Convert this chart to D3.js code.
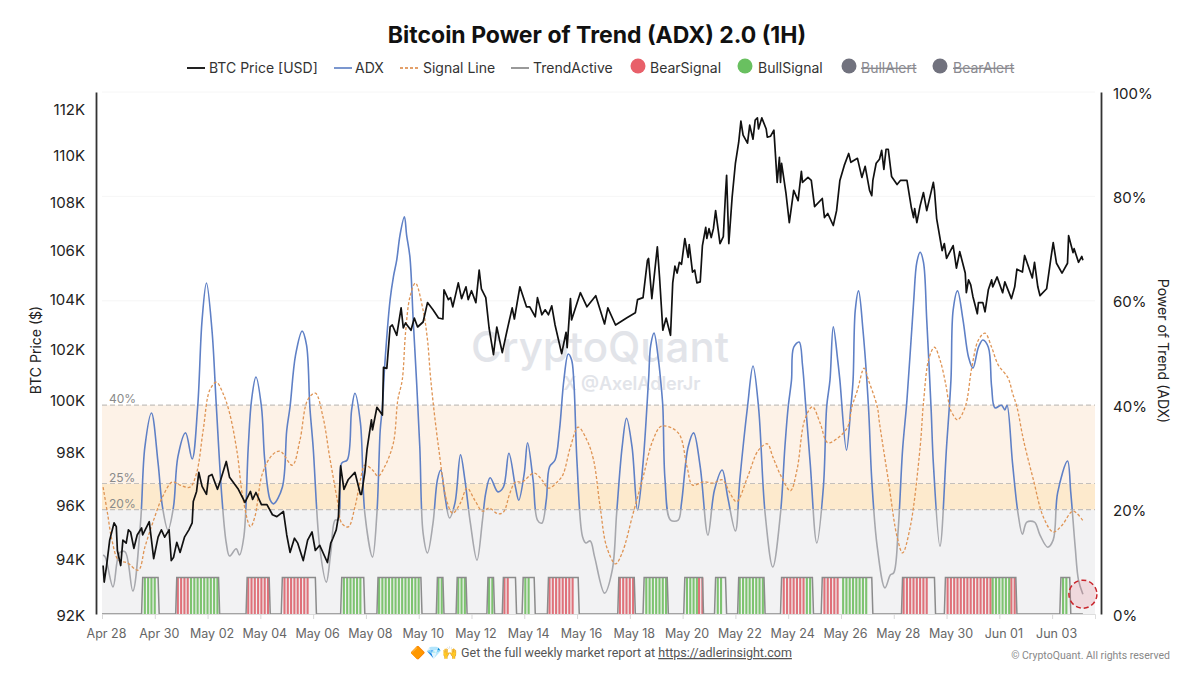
<!DOCTYPE html>
<html>
<head>
<meta charset="utf-8">
<script src="https://cdn.jsdelivr.net/npm/d3@7/dist/d3.min.js"></script>
<style>
  html, body { margin: 0; background: #fff; }
  svg { display: block; font-family: Inter, "Noto Sans", sans-serif; }
</style>
</head>
<body>
<svg id="chart" width="1200" height="675"></svg>
<script>
const priceHours = [1,2,4,7,11,13,14,17,19,22,24,26,29,32,36,37,43,47,51,54,57,61,63,65,68,71,75,79,82,83,86,88,91,95,97,100,105,108,113,116,124,130,135,137,140,145,150,155,159,165,168,171,175,178,183,187,191,194,198,205,208,210,213,215,217,220,224,230,235,236,239,241,245,246,250,255,256,259,262,264,268,272,274,276,281,284,287,292,296,301,306,310,311,315,317,319,324,327,331,333,336,340,343,345,349,352,356,359,364,368,373,375,380,386,389,394,396,400,403,406,409,412,418,422,423,426,427,435,441,449,457,460,467,477,485,487,492,496,497,500,505,507,510,513,517,519,521,523,525,527,530,533,534,537,539,541,544,546,549,550,552,554,556,558,562,565,567,568,570,573,576,579,581,583,587,589,592,594,596,597,600,604,605,608,611,614,616,617,618,622,625,627,629,633,636,637,642,645,648,655,657,660,665,668,671,675,679,681,687,691,694,698,700,701,704,707,709,711,713,715,718,723,726,732,736,738,739,741,744,747,750,756,757,759,764,766,768,774,777,780,785,786,788,790,792,796,797,801,803,806,809,810,814,819,821,827,830,832,837,839,846,848,851,853,859,863,865,868,873,878,879,883,884,888,891,892];
const priceUsd = [93.75,93.15,93.69,94.68,95.32,95.18,94.3,93.75,94.68,94.57,95.06,94.98,94.38,94.87,95.13,94.87,95.36,94.0,94.79,95.06,94.79,95.06,93.93,94.04,94.6,94.23,94.79,95.06,95.32,96.11,96.49,97.21,96.68,96.38,97.06,97.13,96.57,96.94,97.62,97.02,96.57,96.08,96.49,96.19,96.45,96.0,96.0,95.62,95.55,95.74,94.87,94.23,94.75,94.57,93.93,94.68,94.98,94.3,94.49,93.86,94.57,94.75,95.06,95.55,97.45,96.57,96.94,97.21,96.38,96.38,97.21,98.08,99.21,98.83,99.7,99.4,101.26,101.22,102.86,102.94,102.53,103.63,102.82,103.02,102.73,103.22,102.86,103.06,103.84,103.55,103.22,103.18,104.36,103.96,104.04,103.67,104.64,104,104.48,103.96,104.32,103.84,105.16,104.4,104.04,102.82,101.76,102.86,101.84,102.65,103.63,103.18,104.48,103.67,103.67,103.27,104.04,103.35,103.55,103.35,103.71,102.94,101.8,102.65,102.04,104,103.14,104.24,103.67,104.12,102.98,103.63,102.94,103.22,103.43,103.96,104.04,105.56,105.64,104,106.12,104.88,102.73,103.22,102.53,104.64,105.32,105.04,105.48,105.4,106.46,105.68,106.21,105.08,105.16,104.64,104.68,106.17,106.92,106.46,106.87,106.5,106.87,107.62,106.25,106.54,108.34,109.11,106.25,108.17,109.62,110.52,111.43,110.83,110.48,111.26,110.65,111.48,111.57,111.09,111.57,111.09,110.74,110.78,111.04,108.81,109.87,108.81,109.62,108.34,107.12,107.79,108.47,108.04,109.28,108.81,109.02,108.89,107.79,108.13,107.33,107.5,107.0,107.62,108.89,109.53,110.04,109.66,109.83,109.02,109.49,108.47,108.25,108.89,109.62,109.79,110.17,109.36,110.22,110.22,109.06,108.72,108.89,108.89,107.75,107.33,107.71,107.12,107.83,108.38,107.62,108.81,108.47,107.29,105.96,106.25,105.64,106.17,105.24,105.92,105.04,104.24,104.76,104.56,104.08,103.39,103.84,103.84,103.47,104.36,104.76,104.48,104.88,104.24,104.68,104,104.48,105.2,105.08,105.76,104.84,105.48,104.48,104.12,104.4,105.68,106.29,105.44,105.04,105.44,106.58,105.88,106.04,105.48,105.72,105.56].map(k => k * 1000);

const adxHours = [1,3,10,16,21,28,35,39,45,51,55,60,65,69,76,82,87,91,95,100,104,109,113,116,122,125,129,133,136,140,145,148,153,156,164,168,171,176,182,186,189,192,198,204,208,212,215,218,223,227,230,235,239,246,250,253,255,257,262,265,268,271,275,277,280,283,286,289,292,296,301,305,308,312,316,321,326,330,335,341,346,349,353,360,365,370,376,379,384,387,392,396,400,404,407,412,416,420,424,427,429,432,437,440,444,448,457,464,468,473,477,482,487,492,497,499,502,506,508,510,512,517,524,527,533,538,544,551,557,564,569,576,580,587,592,597,603,610,617,621,624,627,629,634,637,640,644,650,656,659,662,665,669,671,677,681,683,685,688,692,697,700,705,712,717,720,724,728,732,738,741,744,747,750,754,756,762,768,772,774,778,783,788,792,797,801,806,809,812,818,821,823,828,833,837,841,848,853,860,865,869,878,881,885,888,892];
const adxValues = [11.3,10.9,5.2,11.7,11.9,4.4,17.4,32,38.5,28.9,20.5,16.1,20.5,30.1,34.7,29.7,39.7,56.3,63.4,54.4,39.7,22.4,13.6,11.1,12.5,11.3,14.8,32,41,45.4,39.7,29.5,21.8,21.1,24.3,35.2,39.7,49.6,54.2,51.5,39.7,32,12.8,6.1,11.7,18,18,28.9,29.5,39.1,42.3,36.6,19.3,10.9,19.3,35.2,39.7,47.3,60.2,64.6,67.8,72.6,76.1,72.6,68.4,56.3,44.8,32,15.5,11.7,17.4,25.7,27.6,22.4,18.4,21.3,30.5,25.7,17.4,10.3,18,23.2,26.1,23.4,24.3,30.8,24.3,21.8,27,32.8,25.7,18,17.4,21.8,28.2,29.5,35.2,44.8,49.8,48.7,44.8,28.9,14.8,13.6,14,10.9,4,8.4,19.3,32,37.5,32,19.9,28.9,44.8,51.5,53.8,48.7,44.8,39.7,25.7,18,18,21.3,32,34.7,28.2,15.1,23.8,27.6,22.4,15.9,25.7,39.7,47.5,39.7,19.3,9,19.3,32,39.7,44.8,51.1,52.1,47.7,39.7,28.9,13.6,24.3,39.7,44.8,55,48.7,44.8,31.4,39.7,44.8,58.2,61.9,54.4,39.7,25.7,12.8,5,7.5,7.9,16.1,31.4,41,59.6,67.4,69.3,67.4,56.3,39.1,28.9,13,32,44.8,58.2,61.9,56.3,49.2,47.1,51.1,52.5,51.1,43.5,39.5,40,39.1,40,28.9,19.3,15.3,17.6,17.6,15.1,12.8,14.2,23.2,29.3,23.2,12.8,6.5,3.8];

const signalHours = [1,5,9,15,23,33,39,46,55,64,71,80,86,92,98,104,110,116,123,128,135,139,146,155,162,173,180,187,194,201,207,214,218,224,230,235,239,246,251,257,265,269,273,276,280,285,292,296,299,306,314,319,326,332,339,346,352,360,365,371,376,382,393,400,406,414,419,426,433,441,447,453,459,467,473,483,492,501,509,524,532,537,547,556,564,571,577,587,597,605,610,618,626,632,639,646,653,660,669,678,682,687,693,697,705,707,715,723,728,735,744,747,752,757,762,767,771,773,778,785,791,797,803,809,815,824,828,832,838,847,856,865,873,883,893];
const signalValues = [24.3,19.3,14.2,10.3,9.8,8.4,12.8,17.4,22.4,25.3,24.7,24.3,27,35.2,42.9,44.4,42.3,38.5,30.8,22.4,16.7,18.6,27,30.5,31.2,28.5,33.3,41,42.3,37.7,30.1,21.8,17.4,16.7,20.5,25.7,28.5,27.6,26.4,28.2,32.8,41,44.8,53.8,60.7,63.4,58.2,52.5,44.8,32,21.3,19.3,21.3,24.1,21.8,19.7,20.3,19.2,19.5,23.2,25.3,25.3,27,25.7,24.1,25.3,26.6,32,35.8,33.3,29.5,20.5,12.8,9.6,11.7,19.3,26.2,33.3,36,34.7,28.2,24.7,25.3,25.1,25.7,23.2,21.5,26.2,31.4,32.6,30.1,26.2,23.6,27.6,37.2,39.7,36.6,32.8,33.7,35.8,39.7,42.9,47.1,44.8,39.7,36.6,25.7,14.8,11.7,16.7,32,40.4,49,51.1,48.7,44.3,39.5,38.5,37.2,39.7,47.3,52.5,53.8,51.1,47.7,45.2,42.3,39.7,33.3,25.7,18.6,15.7,17,19.7,17.6];

// TrendActive on/off windows and the signal runs inside them
const trendActive = [[37,51],[68,106],[132,152],[164,194],[218,238],[251,290],[305,310],[323,331],[351,356],[365,376],[383,393],[406,433],[470,484],[493,514],[530,546],[558,567],[579,602],[618,646],[655,700],[728,757],[767,831],[872,880]];
const trendLevel = 7;
const bullRuns = [[38,48],[80,104],[219,234],[251,287],[305,310],[323,331],[351,356],[384,387],[494,512],[531,541],[559,564],[579,602],[640,645],[673,694],[809,824],[873,878]];
const bearRuns = [[68,78],[132,151],[165,186],[365,369],[406,427],[470,484],[542,546],[619,637],[656,669],[728,750],[768,808],[826,831]];

const priceTicks = [92000,94000,96000,98000,100000,102000,104000,106000,108000,110000,112000];
const pctTicks = [0,20,40,60,80,100];
const zoneEdges = [0,20,25,40];
const zoneLabels = [[40,"40%"],[25,"25%"],[20,"20%"]];

const legendLines = [
  {name:"BTC Price [USD]", color:"#222", dash:null, lx:187, tx:209},
  {name:"ADX", color:"#7b97cf", dash:null, lx:334, tx:355},
  {name:"Signal Line", color:"#e3a06a", dash:"3,2", lx:400, tx:423},
  {name:"TrendActive", color:"#999", dash:null, lx:511, tx:533}
];
const legendDots = [
  {name:"BearSignal", color:"#e8606a", cx:638, tx:650, off:false},
  {name:"BullSignal", color:"#69c060", cx:745, tx:758, off:false},
  {name:"BullAlert", color:"#71727e", cx:849, tx:861, off:true},
  {name:"BearAlert", color:"#71727e", cx:940, tx:953, off:true}
];

const plotLeft = 102, plotRight = 1095, plotTop = 92, plotBottom = 614;
const t0 = Date.UTC(2025, 3, 28);
const hourToDate = h => new Date(t0 + h * 3600e3);

const x = d3.scaleUtc().domain([hourToDate(0), hourToDate(903)]).range([plotLeft, plotRight]);
const yPrice = d3.scaleLog().domain([92000, 112700]).range([plotBottom, plotTop]);
const yPct = d3.scaleLinear().domain([0, 100]).range([plotBottom, plotTop]);

const svg = d3.select("#chart");

// title + legend
svg.append("text").attr("x", 597).attr("y", 43).attr("text-anchor", "middle")
  .style("font-size", "23px").style("font-weight", 700).attr("fill", "#111")
  .text("Bitcoin Power of Trend (ADX) 2.0 (1H)");

const legend = svg.append("g").style("font-size", "14px").attr("fill", "#333");
legendLines.forEach(d => {
  legend.append("line").attr("x1", d.lx).attr("x2", d.lx + 18).attr("y1", 68).attr("y2", 68)
    .attr("stroke", d.color).attr("stroke-width", 2).attr("stroke-dasharray", d.dash);
  legend.append("text").attr("x", d.tx).attr("y", 73).text(d.name);
});
legendDots.forEach(d => {
  legend.append("circle").attr("cx", d.cx).attr("cy", 66).attr("r", 7.5).attr("fill", d.color);
  legend.append("text").attr("x", d.tx).attr("y", 73).text(d.name)
    .attr("fill", d.off ? "#8a8a90" : "#333")
    .style("text-decoration", d.off ? "line-through" : null);
});

// zones
const zoneColors = ["#f2f2f3", "#fdeacd", "#fdf2e7"];
d3.pairs(zoneEdges).forEach(([a, b], i) => {
  svg.append("rect").attr("x", plotLeft).attr("width", plotRight - plotLeft)
    .attr("y", yPct(b)).attr("height", yPct(a) - yPct(b)).attr("fill", zoneColors[i]);
});
[20, 25, 40].forEach(v => {
  svg.append("line").attr("x1", plotLeft).attr("x2", plotRight).attr("y1", yPct(v)).attr("y2", yPct(v))
    .attr("stroke", "#c4c0bc").attr("stroke-width", 1.2).attr("stroke-dasharray", "5,3");
});
svg.append("g").selectAll("text").data(zoneLabels).join("text")
  .attr("x", 109).attr("y", d => yPct(d[0]) - 2)
  .attr("fill", "#8a8a8a").style("font-size", "12px").text(d => d[1]);

// very faint grid
svg.append("g").selectAll("line").data([60, 80, 100]).join("line")
  .attr("x1", plotLeft).attr("x2", plotRight).attr("y1", d => yPct(d)).attr("y2", d => yPct(d))
  .attr("stroke", "#f6f6f6");

// watermark
svg.append("text").attr("x", 600).attr("y", 362).attr("text-anchor", "middle")
  .style("font-size", "42px").style("font-weight", 500).attr("fill", "#e2e4e9").text("CryptoQuant");
svg.append("text").attr("x", 632).attr("y", 390).attr("text-anchor", "middle")
  .style("font-size", "18px").style("font-weight", 600).attr("fill", "#e2e4e9").text("X @AxelAdlerJr");

// signal bars inside each run, every third hour so the stripes stay visible
const barStep = 3;
const hoursOf = runs => runs.flatMap(([a, b]) => d3.range(a, b + 1, barStep));
const drawBars = (runs, color) => {
  svg.append("g").selectAll("rect").data(hoursOf(runs)).join("rect")
    .attr("x", h => x(hourToDate(h))).attr("width", 2.1)
    .attr("y", yPct(trendLevel)).attr("height", yPct(0) - yPct(trendLevel))
    .attr("fill", color).attr("fill-opacity", 0.85);
};
drawBars(bearRuns, "#dc5a64");
drawBars(bullRuns, "#68bb58");

// step line of TrendActive
const trendPoints = [[0, 0]].concat(
  trendActive.flatMap(([a, b]) => [[a - 1, 0], [a, trendLevel], [b, trendLevel], [b + 1, 0]]),
  [[892, 0]]
);
const trendLine = d3.line().x(d => x(hourToDate(d[0]))).y(d => yPct(d[1]));
svg.append("path").attr("d", trendLine(trendPoints)).attr("fill", "none")
  .attr("stroke", "#8b8b8b").attr("stroke-width", 1.5);

// ADX is blue above 20 % and grey under it
const defs = svg.append("defs");
defs.append("clipPath").attr("id", "above").append("rect")
  .attr("x", plotLeft).attr("width", plotRight - plotLeft).attr("y", plotTop).attr("height", yPct(20) - plotTop);
defs.append("clipPath").attr("id", "below").append("rect")
  .attr("x", plotLeft).attr("width", plotRight - plotLeft).attr("y", yPct(20)).attr("height", plotBottom - yPct(20));

const smooth = d3.line().curve(d3.curveCatmullRom.alpha(0.5))
  .x(d => x(hourToDate(d[0]))).y(d => yPct(d[1]));
const adxPoints = d3.zip(adxHours, adxValues);
svg.append("path").attr("d", smooth(adxPoints)).attr("fill", "none")
  .attr("stroke", "#5f80c6").attr("stroke-width", 1.6).attr("clip-path", "url(#above)");
svg.append("path").attr("d", smooth(adxPoints)).attr("fill", "none")
  .attr("stroke", "#a7a8ad").attr("stroke-width", 1.6).attr("clip-path", "url(#below)");

svg.append("path").attr("d", smooth(d3.zip(signalHours, signalValues))).attr("fill", "none")
  .attr("stroke", "#df9454").attr("stroke-width", 1.3).attr("stroke-dasharray", "3,2");

const priceLine = d3.line().x(d => x(hourToDate(d[0]))).y(d => yPrice(d[1]));
svg.append("path").attr("d", priceLine(d3.zip(priceHours, priceUsd))).attr("fill", "none")
  .attr("stroke", "#111").attr("stroke-width", 1.7).attr("stroke-linejoin", "round");

// alert ring on the last ADX reading
svg.append("circle")
  .attr("cx", x(hourToDate(adxHours[adxHours.length - 1])))
  .attr("cy", yPct(adxValues[adxValues.length - 1]))
  .attr("r", 14).attr("fill", "#e05a6a").attr("fill-opacity", 0.16)
  .attr("stroke", "#c9252c").attr("stroke-width", 1.5).attr("stroke-dasharray", "5,3");

// axes
const axisLeft = d3.axisLeft(yPrice).tickValues(priceTicks).tickFormat(d => d / 1000 + "K").tickSize(0).tickPadding(11);
const gl = svg.append("g").attr("transform", "translate(96,0)").call(axisLeft);
gl.select(".domain").attr("stroke", "#333").attr("stroke-width", 1.8);
gl.selectAll("text").attr("dy", "0.4em").style("font-size", "15px").style("font-family", "Inter").attr("fill", "#222");

const axisRight = d3.axisRight(yPct).tickValues(pctTicks).tickFormat(d => d + "%").tickSize(0).tickPadding(12);
const gr = svg.append("g").attr("transform", "translate(1101,0)").call(axisRight);
gr.select(".domain").attr("stroke", "#333").attr("stroke-width", 1.8);
gr.selectAll("text").attr("dy", "0.4em").style("font-size", "15px").style("font-family", "Inter").attr("fill", "#222");

const tickDates = d3.range(0, 37, 2).map(d => hourToDate(d * 24));
const axisBottom = d3.axisBottom(x).tickValues(tickDates).tickFormat(d3.utcFormat("%b %d")).tickSizeOuter(0).tickSize(5).tickPadding(10);
const gb = svg.append("g").attr("transform", `translate(0,${plotBottom})`).call(axisBottom);
gb.select(".domain").attr("stroke", "#dddddd");
gb.selectAll(".tick line").attr("stroke", "#d8d8d8");
gb.selectAll("text").attr("dx", 4).style("font-size", "12.5px").style("font-family", "Inter").attr("fill", "#666");

svg.append("text").attr("transform", "translate(41,350) rotate(-90)").attr("text-anchor", "middle")
  .style("font-size", "14px").attr("fill", "#222").text("BTC Price ($)");
svg.append("text").attr("transform", "translate(1158,351) rotate(90)").attr("text-anchor", "middle")
  .style("font-size", "14px").attr("fill", "#222").text("Power of Trend (ADX)");

// footer
const foot = svg.append("text").attr("x", 410).attr("y", 657)
  .style("font-size", "12.5px").style("font-family", "Roboto").attr("fill", "#555");
foot.append("tspan").text("🔶💎🙌 Get the full weekly market report at ");
foot.append("tspan").style("text-decoration", "underline").text("https://adlerinsight.com");
svg.append("text").attr("x", 1170).attr("y", 659).attr("text-anchor", "end")
  .style("font-size", "10.5px").style("font-family", "Roboto").attr("fill", "#888").text("© CryptoQuant. All rights reserved");
</script>
</body>
</html>
